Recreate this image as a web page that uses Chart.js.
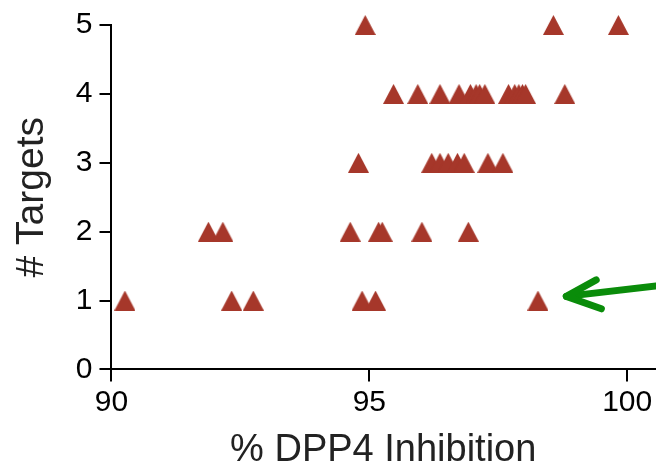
<!DOCTYPE html>
<html>
<head>
<meta charset="utf-8">
<script src="https://cdn.jsdelivr.net/npm/chart.js@4.4.1/dist/chart.umd.min.js"></script>
<style>
  html, body { margin: 0; padding: 0; background: #fff; overflow: hidden; }
  canvas { display: block; }
</style>
</head>
<body>
<canvas id="chart" width="660" height="473"></canvas>
<script>
// Valeurs (une ligne par nombre de cibles)
const inhibition5 = [94.92, 98.57, 99.83];
const inhibition4 = [95.47, 95.94, 96.37, 96.74, 96.96, 97.07, 97.14, 97.24,
                     97.70, 97.82, 97.90, 97.97, 98.03, 98.79];
const inhibition3 = [94.79, 96.21, 96.37, 96.53, 96.71, 96.84, 97.30, 97.59];
const inhibition2 = [91.88, 92.16, 94.63, 95.18, 95.25, 96.02, 96.92];
const inhibition1 = [90.26, 92.33, 92.75, 94.86, 95.12, 98.27];

const xTicks = [90, 95, 100];
const yTicks = [0, 1, 2, 3, 4, 5];

// Fleche verte (coordonnees en unites des axes)
const arrowShaft = [[98.82, 1.06], [101.0, 1.25]];
const arrowHead = [[99.40, 1.30], [98.82, 1.06], [99.50, 0.88]];

const markerColor = '#a6372a';
const fontFamily = "'Liberation Sans', Arial, Helvetica, sans-serif";

// Triangle marker
function makeTriangle() {
    const c = document.createElement('canvas');
    c.width = 21;
    c.height = 20;
    const g = c.getContext('2d');
    g.fillStyle = markerColor;
    g.beginPath();
    g.moveTo(0, 20);
    g.lineTo(10.5, 0);
    g.lineTo(21, 20);
    g.closePath();
    g.fill();
    return c;
}
const triangle = makeTriangle();

const points = [];
[[1, inhibition1], [2, inhibition2], [3, inhibition3], [4, inhibition4], [5, inhibition5]]
    .forEach(([n, arr]) => arr.forEach(v => points.push({ x: v, y: n })));

const arrowPlugin = {
    id: 'arrow',
    afterDraw(chart) {
        const { ctx, scales: { x, y } } = chart;
        const px = p => [x.getPixelForValue(p[0]), y.getPixelForValue(p[1])];
        ctx.save();
        ctx.strokeStyle = '#0a8c0a';
        ctx.lineWidth = 7;
        ctx.lineCap = 'round';
        ctx.lineJoin = 'round';
        ctx.beginPath();
        let a = px(arrowShaft[0]), b = px(arrowShaft[1]);
        ctx.moveTo(a[0], a[1]);
        ctx.lineTo(b[0], b[1]);
        ctx.stroke();
        ctx.beginPath();
        arrowHead.forEach((p, i) => {
            const q = px(p);
            if (i === 0) ctx.moveTo(q[0], q[1]); else ctx.lineTo(q[0], q[1]);
        });
        ctx.stroke();
        ctx.restore();
    }
};

new Chart(document.getElementById('chart'), {
    type: 'scatter',
    data: {
        datasets: [{
            data: points,
            pointStyle: triangle,
            clip: false
        }]
    },
    options: {
        responsive: false,
        animation: false,
        devicePixelRatio: 1,
        layout: { padding: { top: 15, right: 0, left: 9, bottom: 0 } },
        plugins: {
            legend: { display: false },
            tooltip: { enabled: false }
        },
        scales: {
            x: {
                type: 'linear',
                min: 90,
                max: 100.54,
                afterBuildTicks: axis => { axis.ticks = xTicks.map(v => ({ value: v })); },
                border: { display: true, color: '#000', width: 2 },
                grid: { drawOnChartArea: false, drawTicks: true, tickLength: 12, color: '#000', lineWidth: 2 },
                ticks: { color: '#000', font: { family: fontFamily, size: 30 }, padding: 3, maxRotation: 0 },
                title: {
                    display: true,
                    text: '% DPP4 Inhibition',
                    color: '#222',
                    font: { family: fontFamily, size: 38 },
                    padding: { top: 4, bottom: 0 }
                }
            },
            y: {
                type: 'linear',
                min: 0,
                max: 5,
                afterBuildTicks: axis => { axis.ticks = yTicks.map(v => ({ value: v })); },
                border: { display: true, color: '#000', width: 2 },
                grid: { drawOnChartArea: false, drawTicks: true, tickLength: 12, color: '#000', lineWidth: 2 },
                ticks: { color: '#000', font: { family: fontFamily, size: 30 }, padding: 7 },
                title: {
                    display: true,
                    text: '# Targets',
                    color: '#222',
                    font: { family: fontFamily, size: 39 },
                    padding: { top: 0, bottom: 13 }
                }
            }
        }
    },
    plugins: [arrowPlugin]
});
</script>
</body>
</html>
